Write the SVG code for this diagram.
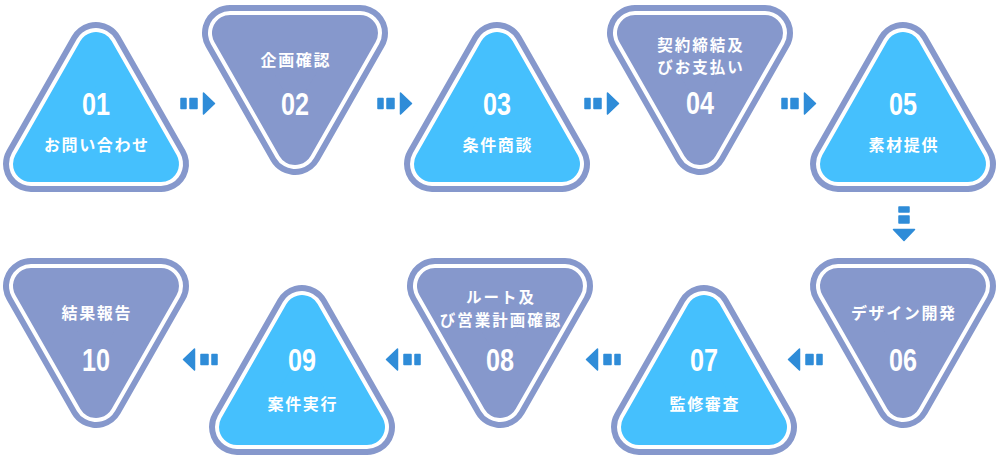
<svg xmlns="http://www.w3.org/2000/svg" width="999" height="458" viewBox="0 0 999 458">
<style>
.o{fill:#8698CC;stroke:#8698CC;stroke-width:56;stroke-linejoin:round}
.w{fill:#fff;stroke:#fff;stroke-width:44;stroke-linejoin:round}
.b{fill:#45C0FD;stroke:#45C0FD;stroke-width:36;stroke-linejoin:round}
.p{fill:#8698CC;stroke:#8698CC;stroke-width:36;stroke-linejoin:round}
.num{font-family:"Liberation Sans","DejaVu Sans",sans-serif;font-weight:bold;font-size:32px;fill:#fff;text-anchor:middle}
.lbl{font-family:"Noto Sans CJK JP","Noto Sans",sans-serif;font-weight:bold;font-size:16px;letter-spacing:1.6px;fill:#fff;text-anchor:middle}
.l2{font-size:15.5px;letter-spacing:2px}
.arr{fill:#2F8CD8;stroke:#2F8CD8;stroke-width:1.5;stroke-linejoin:round}
</style>
<defs>
<path id="up" d="M0,28 L65,142 L-65,142 Z"/>
<path id="dn" d="M-65,28 L65,28 L0,142 Z"/>
<g id="ar">
<rect x="0" y="-5" width="5" height="10"/>
<rect x="9" y="-5" width="7" height="10"/>
<path d="M22.5,-10.5 L33.5,0 L22.5,10.5 Z"/>
</g>
</defs>

<g id="connectors" class="arr">
<use href="#ar" transform="translate(181,103.5)"/>
<use href="#ar" transform="translate(378,103.5)"/>
<use href="#ar" transform="translate(585,103.5)"/>
<use href="#ar" transform="translate(782,103.5)"/>
<use href="#ar" transform="translate(904,207) rotate(90)"/>
<use href="#ar" transform="translate(822,359.5) scale(-1,1)"/>
<use href="#ar" transform="translate(620,359.5) scale(-1,1)"/>
<use href="#ar" transform="translate(420,359.5) scale(-1,1)"/>
<use href="#ar" transform="translate(217,359.5) scale(-1,1)"/>
</g>

<g id="n01" transform="translate(96,22)">
<use href="#up" class="o"/><use href="#up" class="w"/><use href="#up" class="b"/>
<text class="num" x="0" y="93" textLength="28" lengthAdjust="spacingAndGlyphs">01</text>
<text class="lbl" x="0.8" y="129">お問い合わせ</text>
</g>
<g id="n02" transform="translate(295,5)">
<use href="#dn" class="o"/><use href="#dn" class="w"/><use href="#dn" class="p"/>
<text class="lbl" x="0.8" y="61">企画確認</text>
<text class="num" x="0" y="110" textLength="28" lengthAdjust="spacingAndGlyphs">02</text>
</g>
<g id="n03" transform="translate(497,22)">
<use href="#up" class="o"/><use href="#up" class="w"/><use href="#up" class="b"/>
<text class="num" x="0" y="93" textLength="28" lengthAdjust="spacingAndGlyphs">03</text>
<text class="lbl" x="0.8" y="129">条件商談</text>
</g>
<g id="n04" transform="translate(700,5)">
<use href="#dn" class="o"/><use href="#dn" class="w"/><use href="#dn" class="p"/>
<text class="lbl l2" x="1" y="45.5">契約締結及</text>
<text class="lbl l2" x="1" y="68">びお支払い</text>
<text class="num" x="0" y="109" textLength="28" lengthAdjust="spacingAndGlyphs">04</text>
</g>
<g id="n05" transform="translate(903,22)">
<use href="#up" class="o"/><use href="#up" class="w"/><use href="#up" class="b"/>
<text class="num" x="0" y="93" textLength="28" lengthAdjust="spacingAndGlyphs">05</text>
<text class="lbl" x="0.8" y="129">素材提供</text>
</g>
<g id="n06" transform="translate(903,258)">
<use href="#dn" class="o"/><use href="#dn" class="w"/><use href="#dn" class="p"/>
<text class="lbl" x="0.8" y="61">デザイン開発</text>
<text class="num" x="0" y="113" textLength="28" lengthAdjust="spacingAndGlyphs">06</text>
</g>
<g id="n07" transform="translate(704,285)">
<use href="#up" class="o"/><use href="#up" class="w"/><use href="#up" class="b"/>
<text class="num" x="0" y="86" textLength="28" lengthAdjust="spacingAndGlyphs">07</text>
<text class="lbl" x="0.8" y="125">監修審査</text>
</g>
<g id="n08" transform="translate(500,258)">
<use href="#dn" class="o"/><use href="#dn" class="w"/><use href="#dn" class="p"/>
<text class="lbl l2" x="1" y="45">ルート及</text>
<text class="lbl l2" x="1" y="67.5">び営業計画確認</text>
<text class="num" x="0" y="113" textLength="28" lengthAdjust="spacingAndGlyphs">08</text>
</g>
<g id="n09" transform="translate(302,285)">
<use href="#up" class="o"/><use href="#up" class="w"/><use href="#up" class="b"/>
<text class="num" x="0" y="86" textLength="28" lengthAdjust="spacingAndGlyphs">09</text>
<text class="lbl" x="0.8" y="125">案件実行</text>
</g>
<g id="n10" transform="translate(96,258)">
<use href="#dn" class="o"/><use href="#dn" class="w"/><use href="#dn" class="p"/>
<text class="lbl" x="0.8" y="61">結果報告</text>
<text class="num" x="0" y="113" textLength="28" lengthAdjust="spacingAndGlyphs">10</text>
</g>
</svg>
